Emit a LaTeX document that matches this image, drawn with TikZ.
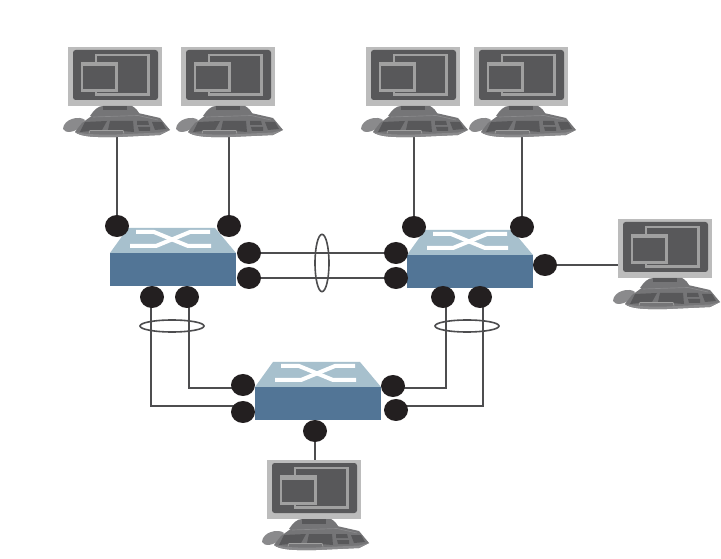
\documentclass[tikz,border=0pt]{standalone}
\usetikzlibrary{shapes.geometric,backgrounds}
\definecolor{dotc}{HTML}{231F20}
\definecolor{linec}{HTML}{4D4D4F}
\definecolor{swtop}{HTML}{A7C0CD}
\definecolor{swfront}{HTML}{527596}
\definecolor{monbez}{HTML}{BCBCBC}
\definecolor{mondark}{HTML}{58585A}
\definecolor{monwin}{HTML}{A0A0A0}
\definecolor{kbmid}{HTML}{8A8A8C}
\definecolor{kbbody}{HTML}{757577}
\definecolor{kbdark}{HTML}{58585A}
\tikzset{
  x=0.75pt,y=-0.75pt,
  port/.style={ellipse,fill=dotc,inner sep=0pt,minimum width=18pt,minimum height=16.5pt},
  wire/.style={draw=linec,line width=1.1pt},
  ring/.style={ellipse,draw=linec,line width=1.2pt,fill=none,inner sep=0pt},
  pc/.pic={
    \coordinate (-port) at (49,90);
    \coordinate (-side) at (0,46);
    \coordinate (-top) at (48,0);
    \fill[monbez] (0,0) rectangle (94,59);
    \fill[mondark,rounded corners=2pt] (5,3) rectangle (90,53);
    \draw[monwin,line width=1.6pt] (28,8) rectangle (80.5,47.5);
    \fill[mondark] (13,15) rectangle (49,44);
    \draw[monwin,line width=1.6pt] (14,16) rectangle (48.5,43.5);
    \fill[monwin] (13,15) rectangle (49,19.5);
    \fill[kbmid] (-5,82) .. controls (-5,77) and (0,73) .. (4,72) .. controls (9,70) and (15,71) .. (17,73) -- (12,80) .. controls (8,85) and (-3,87) .. (-5,82) -- cycle;
    \fill[kbbody] (22,69) .. controls (26,63) and (30,59) .. (35,59) -- (64,59) .. controls (68,61) and (70,64) .. (72,68) -- cycle;
    \fill[kbdark] (35,59) rectangle (59,63.5);
    \fill[kbbody] (7,85) -- (14,76) -- (25,68) -- (70,66) -- (92,71) -- (102,83) -- (92,88) -- (49,90) .. controls (30,90.5) and (12,90) .. (7,85) -- cycle;
    \fill[kbmid] (7,85) .. controls (12,90) and (30,90.5) .. (49,90) -- (92,88) -- (102,83) -- (92,85.5) -- (49,87.5) .. controls (30,88) and (15,87) .. (7,85) -- cycle;
    \draw[kbmid,line width=0.5pt] (25,70) -- (70,68.5) -- (90,73);
    \fill[kbdark] (12,85) -- (17,75) -- (39,74) -- (34,83) -- cycle;
    \fill[kbdark] (42,74) -- (65,74) -- (66,85) -- (40,83) -- cycle;
    \fill[kbdark] (69,74) -- (80,74) -- (81,78) -- (69,78) -- cycle;
    \fill[kbdark] (70,80) -- (82,80) -- (82,84) -- (71,84) -- cycle;
    \fill[kbdark] (84,75) -- (94,75) -- (98,82) -- (87,83) -- cycle;
    \draw[monwin,line width=0.5pt] (21,86.5) -- (22,83.5) -- (55,83.5) -- (56,86.5);
  },
  sw/.pic={
    \fill[swfront] (0,0) rectangle (126,33);
    \fill[swtop] (0,0) -- (18,-25) -- (105,-25) -- (126,0) -- cycle;
    \draw[white,line width=3pt] (26,-21) -- (44,-21) -- (78,-7) -- (101,-7);
    \draw[white,line width=3pt] (100,-21) -- (80,-21) -- (46,-7) -- (20,-7);
  }
}
\begin{document}
\begin{tikzpicture}
\useasboundingbox (0,0) rectangle (721,559);
\pic (pa) at (68,47) {pc};
\pic (pb) at (181,47) {pc};
\pic (pc) at (366,47) {pc};
\pic (pd) at (474,47) {pc};
\pic (pe) at (618,219) {pc};
\pic (pf) at (267,460) {pc};
\pic at (110,253) {sw};
\pic at (407,255) {sw};
\pic at (255,387) {sw};
\node[port] (a1) at (117,226) {};
\node[port] (a2) at (229,226) {};
\node[port] (a3) at (249,253) {};
\node[port] (a4) at (249,278) {};
\node[port] (a5) at (152,297) {};
\node[port] (a6) at (187,297) {};
\node[port] (b1) at (414,227) {};
\node[port] (b2) at (522,227) {};
\node[port] (b3) at (396,253) {};
\node[port] (b4) at (396,278) {};
\node[port] (b5) at (545,265) {};
\node[port] (b6) at (443,297) {};
\node[port] (b7) at (480,297) {};
\node[port] (c1) at (243,385) {};
\node[port] (c2) at (243,412) {};
\node[port] (c3) at (393,386) {};
\node[port] (c4) at (396,410) {};
\node[port] (c5) at (315,431) {};
\begin{scope}[on background layer]
\fill[white] (0,0) rectangle (721,559);
\draw[wire] (pa-port) -- (a1);
\draw[wire] ([xshift=-0.75pt]pb-port) -- (a2);
\draw[wire] ([xshift=-0.75pt]pc-port) -- (b1);
\draw[wire] ([xshift=-0.75pt]pd-port) -- (b2);
\draw[wire] (a3) -- (b3);
\draw[wire] (a4) -- (b4);
\draw[wire] (b5) -- (pe-side);
\draw[wire] (c5) -- (pf-top);
\draw[wire] ([xshift=-0.75pt]a5.center) |- ([yshift=4.5pt]c2.center);
\draw[wire] ([xshift=1.5pt]a6.center) |- ([yshift=-2.25pt]c1.center);
\draw[wire] ([xshift=2.25pt]b6.center) |- ([yshift=-1.5pt]c3.center);
\draw[wire] ([xshift=2.25pt]b7.center) |- ([yshift=3pt]c4.center);
\end{scope}
\node[ring,minimum width=10.5pt,minimum height=43pt] (r1) at (322,263) {};
\node[ring,minimum width=48pt,minimum height=9pt] (r2) at (172,326) {};
\node[ring,minimum width=48pt,minimum height=9pt] (r3) at (467,326) {};
\end{tikzpicture}
\end{document}
